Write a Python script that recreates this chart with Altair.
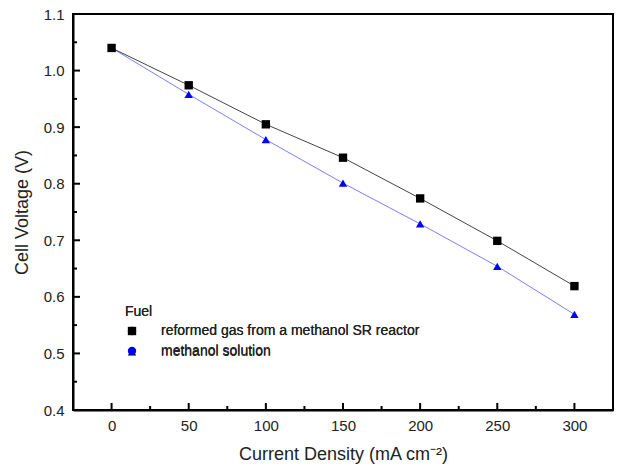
import altair as alt
import pandas as pd

# Data
current = [0, 50, 100, 150, 200, 250, 300]
reformed = [1.040, 0.974, 0.905, 0.846, 0.774, 0.699, 0.619]
methanol = [1.040, 0.958, 0.878, 0.801, 0.729, 0.654, 0.569]
series_names = ["reformed gas from a methanol SR reactor", "methanol solution"]
legend_title = "Fuel"

x_major = [0, 50, 100, 150, 200, 250, 300]
x_minor = [-25, 25, 75, 125, 175, 225, 275, 325]
y_major = [0.4, 0.5, 0.6, 0.7, 0.8, 0.9, 1.0, 1.1]
y_minor = [0.45, 0.55, 0.65, 0.75, 0.85, 0.95, 1.05]

W, H = 540, 396
FONT = "Liberation Sans"

# methanol first so the black squares are drawn on top
df = pd.DataFrame({
    "series": [series_names[1]] * len(current) + [series_names[0]] * len(current),
    "x": current + current,
    "y": methanol + reformed,
})

xs = alt.Scale(domain=[-25, 325], nice=False, zero=False)
ys = alt.Scale(domain=[0.4, 1.1], nice=False, zero=False)

common = dict(ticks=False, grid=False, domainColor="black", domainWidth=2,
              labelFont=FONT, labelFontSize=15, labelColor="#222",
              titleFont=FONT, titleFontSize=18, titleFontWeight="normal", titleColor="#222")
xax = alt.Axis(values=x_major, title="Current Density (mA cm⁻²)", labelPadding=8, titlePadding=12, **common)
yax = alt.Axis(values=y_major, format=".1f", title="Cell Voltage (V)", labelPadding=9, titlePadding=12, **common)

X = alt.X("x:Q", scale=xs, axis=xax)
Y = alt.Y("y:Q", scale=ys, axis=yax)

leg = alt.Legend(title=legend_title, orient="none", legendX=52, legendY=291, padding=0,
                 titleFont=FONT, titleFontSize=14, titleFontWeight="normal", titleColor="#222",
                 titlePadding=5, labelFont=FONT, labelFontSize=14, labelColor="#222",
                 labelLimit=400, labelOffset=22, rowPadding=6, symbolSize=70)

lines = alt.Chart(df).mark_line(strokeWidth=1).encode(
    x=X, y=Y,
    color=alt.Color("series:N", scale=alt.Scale(domain=series_names, range=["#444444", "#7d7dff"]),
                    legend=None))
points = alt.Chart(df).mark_point(filled=True, size=70, opacity=1).encode(
    x=X, y=Y,
    color=alt.Color("series:N", scale=alt.Scale(domain=series_names, range=["black", "#0000ff"]),
                    legend=leg),
    shape=alt.Shape("series:N", scale=alt.Scale(domain=series_names, range=["square", "triangle-up"]),
                    legend=leg))

# inward ticks
xmaj = alt.Chart(pd.DataFrame({"x": x_major})).mark_rule(color="black", strokeWidth=2).encode(
    x=X, y=alt.value(H), y2=alt.value(H - 7))
xmin = alt.Chart(pd.DataFrame({"x": x_minor})).mark_rule(color="black", strokeWidth=2).encode(
    x=X, y=alt.value(H), y2=alt.value(H - 4))
ymaj = alt.Chart(pd.DataFrame({"y": y_major})).mark_rule(color="black", strokeWidth=2).encode(
    y=Y, x=alt.value(0), x2=alt.value(7))
ymin = alt.Chart(pd.DataFrame({"y": y_minor})).mark_rule(color="black", strokeWidth=2).encode(
    y=Y, x=alt.value(0), x2=alt.value(4))

chart = alt.layer(lines, points, xmaj, xmin, ymaj, ymin).resolve_scale(
    color="independent"
).properties(
    width=W, height=H, autosize="none",
    padding={"left": 73, "top": 14, "right": 7, "bottom": 66},
).configure_view(stroke="black", strokeWidth=2)

chart.save("out.html", embed_options={"renderer": "svg", "actions": False})
